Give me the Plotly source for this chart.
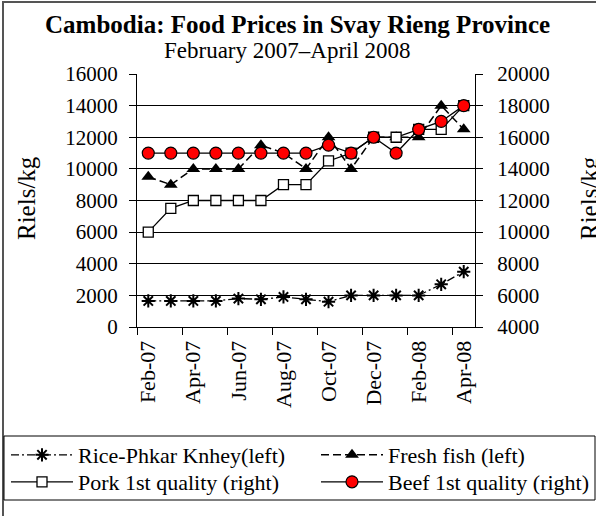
import plotly.graph_objects as go

# Monthly food prices, Svay Rieng Province (riels per kg)
months = ["Feb-07", "Mar-07", "Apr-07", "May-07", "Jun-07", "Jul-07", "Aug-07",
          "Sep-07", "Oct-07", "Nov-07", "Dec-07", "Jan-08", "Feb-08", "Mar-08", "Apr-08"]

# left axis series
rice = [1650, 1650, 1650, 1650, 1800, 1750, 1900, 1750, 1600, 2000, 2000, 2000, 2000, 2700, 3500]
fish = [9500, 9000, 10000, 10000, 10000, 11500, 11000, 10000, 12000, 10000, 12000, 12000, 12000, 14000, 12500]

# right axis series
pork = [10000, 11500, 12000, 12000, 12000, 12000, 13000, 13000, 14500, 15000, 16000, 16000, 16500, 16500, 18000]
beef = [15000, 15000, 15000, 15000, 15000, 15000, 15000, 15000, 15500, 15000, 16000, 15000, 16500, 17000, 18000]

FONT = "Liberation Serif"

# plot-area geometry in pixels
W, H = 596, 516
L, R, T, B = 137, 121, 74, 189
PW, PH = W - L - R, H - T - B


def px(x):
    return (x - L) / PW


def py(y):
    return (H - B - y) / PH


fig = go.Figure()

fig.add_trace(go.Scatter(
    x=months, y=rice, name="Rice-Phkar Knhey(left)", mode="lines+markers", yaxis="y",
    legend="legend",
    line=dict(color="black", width=1.3, dash="8px,3px,2px,3px"),
    marker=dict(symbol="asterisk-open", size=11, color="black", line=dict(color="black", width=2)),
))
fig.add_trace(go.Scatter(
    x=months, y=fish, name="Fresh fish (left)", mode="lines+markers", yaxis="y",
    legend="legend2",
    line=dict(color="black", width=1.5, dash="8px,4px"),
    marker=dict(symbol="triangle-up", size=12, color="black", line=dict(color="black", width=0)),
))
fig.add_trace(go.Scatter(
    x=months, y=pork, name="Pork 1st quality (right)", mode="lines+markers", yaxis="y2",
    legend="legend3",
    line=dict(color="black", width=1.3),
    marker=dict(symbol="square", size=10, color="white", line=dict(color="black", width=1.3)),
))
fig.add_trace(go.Scatter(
    x=months, y=beef, name="Beef 1st quality (right)", mode="lines+markers", yaxis="y2",
    legend="legend4",
    line=dict(color="black", width=1.3),
    marker=dict(symbol="circle", size=12, color="#FF0000", line=dict(color="black", width=1.2)),
))


def legend_at(x_pix, y_pix):
    return dict(
        x=px(x_pix), y=py(y_pix), xanchor="left", yanchor="middle",
        orientation="v", itemwidth=62, font=dict(size=22),
        bgcolor="rgba(0,0,0,0)", borderwidth=0,
    )


fig.update_layout(
    width=W, height=H,
    margin=dict(l=L, r=R, t=T, b=B, pad=0, autoexpand=False),
    paper_bgcolor="white", plot_bgcolor="white",
    font=dict(family=FONT, color="black", size=21),
    xaxis=dict(
        type="category", range=[-0.5, 14.5], dtick=2, tickson="boundaries",
        ticks="outside", ticklen=7, tickcolor="black", tickwidth=1,
        tickangle=-90, tickfont=dict(size=22), automargin=False, ticklabelstandoff=4,
        showline=True, linecolor="black", linewidth=1, showgrid=False,
    ),
    yaxis=dict(
        range=[0, 16000], dtick=2000, tickformat="d",
        ticks="outside", ticklen=7, tickcolor="black", tickwidth=1,
        showline=True, linecolor="black", linewidth=1, automargin=False,
        showgrid=True, gridcolor="black", gridwidth=1, zeroline=False,
        tickfont=dict(size=21), ticklabelstandoff=7,
    ),
    yaxis2=dict(
        overlaying="y", side="right", anchor="x",
        range=[4000, 20000], dtick=2000, tickformat="d", automargin=False,
        ticks="outside", ticklen=7, tickcolor="black", tickwidth=1,
        showline=True, linecolor="black", linewidth=1, showgrid=False, zeroline=False,
        tickfont=dict(size=21), ticklabelstandoff=10,
    ),
    showlegend=True,
    legend=legend_at(6, 455),
    legend2=legend_at(316, 455),
    legend3=legend_at(6, 482),
    legend4=legend_at(316, 482),
    shapes=[
        # outer frame
        dict(type="rect", xref="paper", yref="paper",
             x0=px(3), x1=px(620), y0=py(620), y1=py(2),
             line=dict(color="#555555", width=2), fillcolor="rgba(0,0,0,0)", layer="below"),
        # legend box
        dict(type="rect", xref="paper", yref="paper",
             x0=px(4), x1=px(595), y0=py(500), y1=py(436),
             line=dict(color="black", width=1), fillcolor="rgba(0,0,0,0)"),
    ],
    annotations=[
        dict(text="<b>Cambodia: Food Prices in Svay Rieng Province</b>", xref="paper", yref="paper",
             x=px(297), y=py(24), showarrow=False, xanchor="center", yanchor="middle",
             font=dict(size=25)),
        dict(text="February 2007\u2013April 2008", xref="paper", yref="paper",
             x=px(287), y=py(50), showarrow=False, xanchor="center", yanchor="middle",
             font=dict(size=23)),
        dict(text="Riels/kg", xref="paper", yref="paper", textangle=-90,
             x=px(26), y=py(198), showarrow=False, xanchor="center", yanchor="middle",
             font=dict(size=25)),
        dict(text="Riels/kg", xref="paper", yref="paper", textangle=-90,
             x=px(589), y=py(198), showarrow=False, xanchor="center", yanchor="middle",
             font=dict(size=25)),
    ],
)

fig.write_html("out.html")
